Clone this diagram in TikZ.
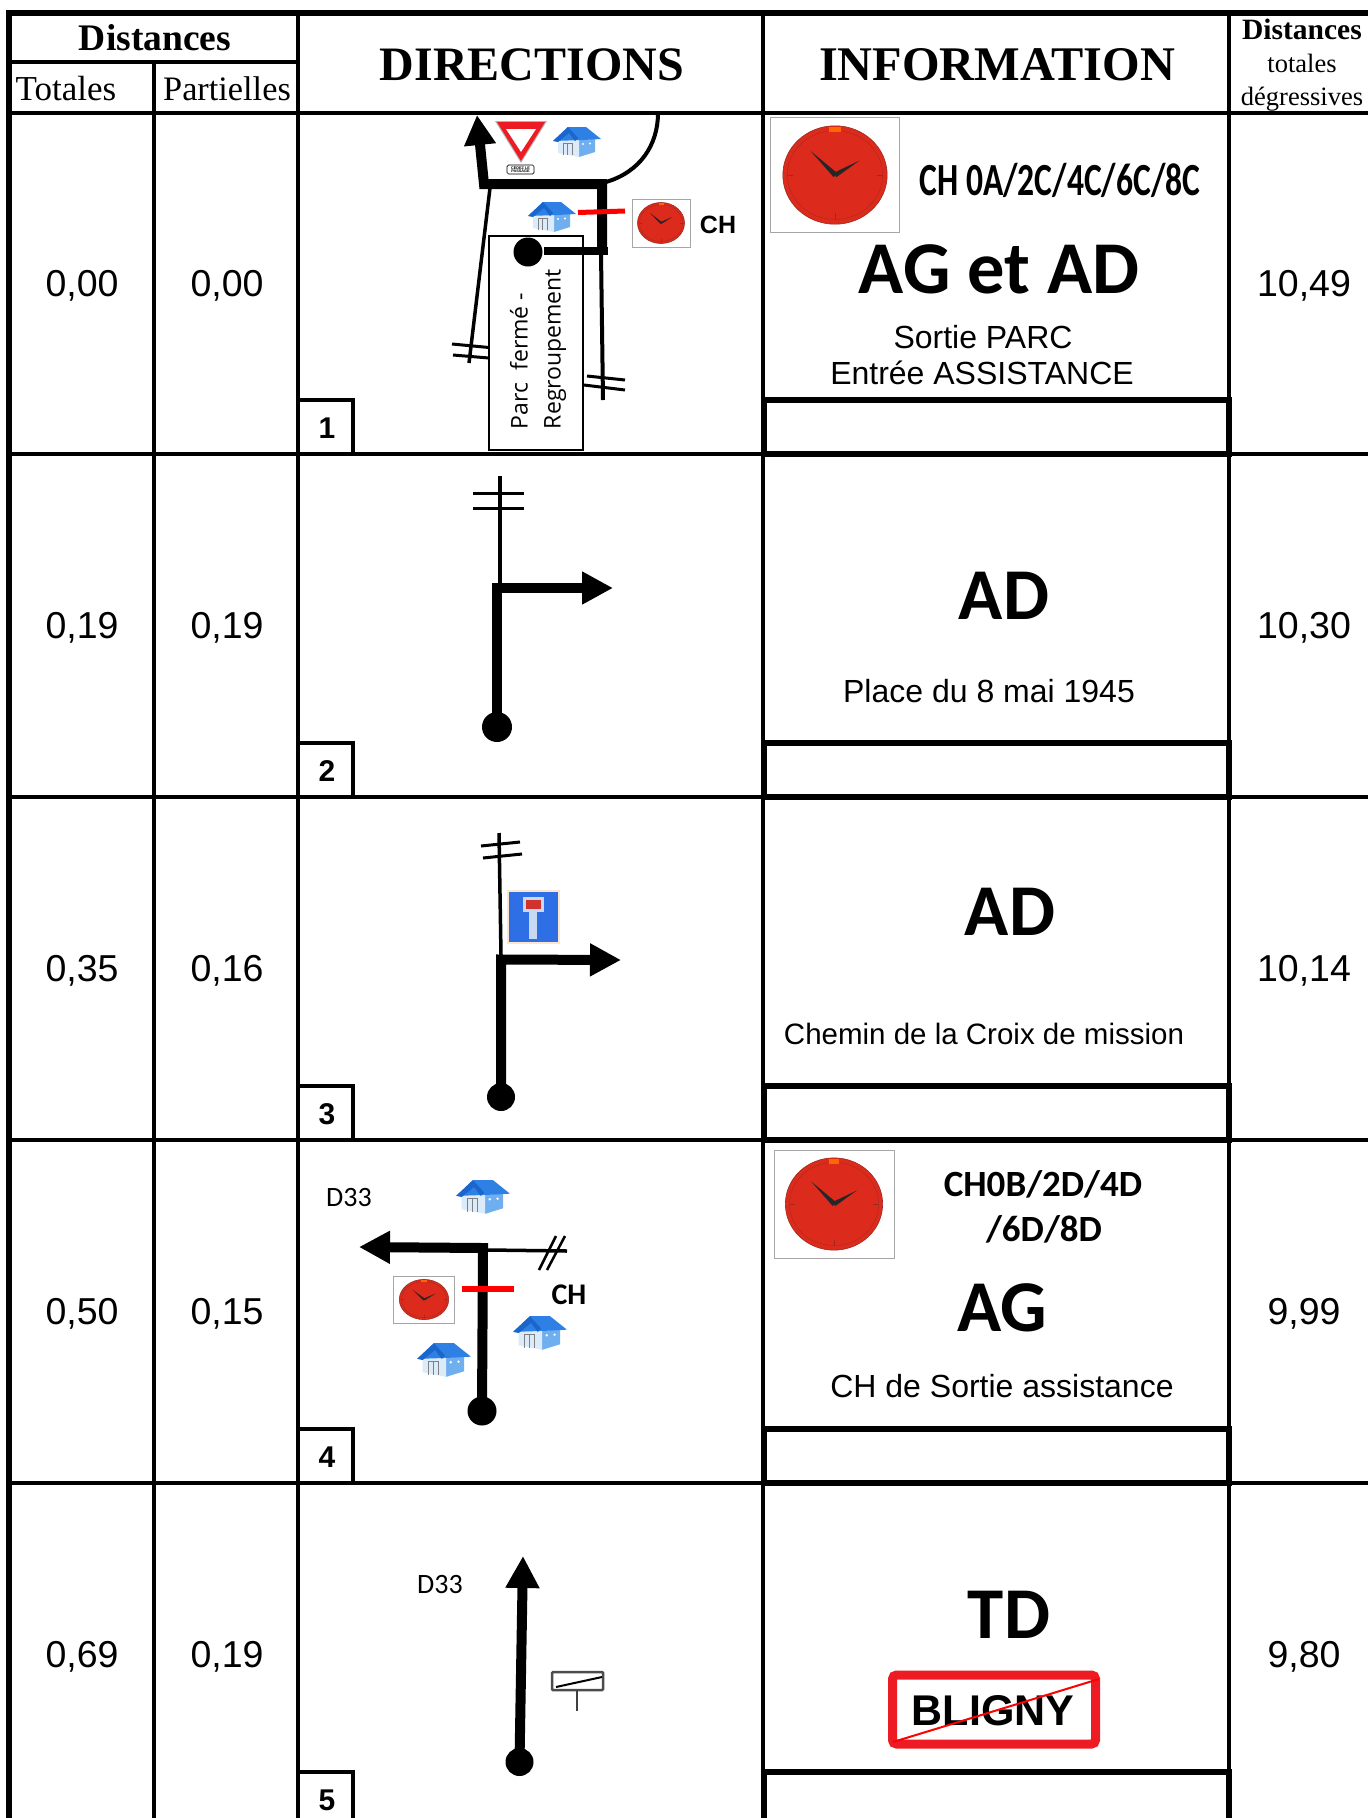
\documentclass[tikz,border=0pt]{standalone}
\usepackage{fontspec}
\usetikzlibrary{arrows.meta}
\setmainfont{Liberation Serif}
\newfontfamily\arialf{Liberation Sans}
\newfontfamily\calibf{Carlito}
\newfontfamily\opensf{Open Sans}
\newcommand{\fsz}[1]{\fontsize{#1}{#1}\selectfont}
\definecolor{signred}{HTML}{ED1C24}
\definecolor{clockred}{HTML}{DC2A1C}
\definecolor{clockrim}{HTML}{9E2A1E}
\definecolor{roofblue}{HTML}{2F80E4}
\definecolor{roofdark}{HTML}{1A66CC}
\definecolor{sideblue}{HTML}{6FAEEF}
\definecolor{frontpale}{HTML}{DCEBFA}
\definecolor{panelblue}{HTML}{2F6FE6}
\definecolor{panelpale}{HTML}{C9D8F2}
\definecolor{panelred}{HTML}{D2322C}
\tikzset{
  outer/.style={line width=6pt},
  grid/.style={line width=3.5pt},
  thickbox/.style={line width=5.5pt},
  numbox/.style={line width=3.5pt},
  road/.style={line width=10pt,line join=miter},
  roadarrow/.style={road,-{Triangle[length=31pt,width=31pt]}},
  street/.style={line width=3.5pt},
  hatch/.style={line width=3pt},
  dot/.style={circle,fill=black,inner sep=0pt,minimum size=#1},
  redbar/.style={line width=5pt,red},
  head/.style={inner sep=0pt,font=\bfseries\fsz{48}},
  dist/.style={inner sep=0pt,font=\arialf\fsz{37.5}},
  lab/.style={inner sep=0pt,font=\arialf\fsz{32}},
  big/.style={inner sep=0pt,font=\calibf\bfseries\fsz{73}},
  num/.style={inner sep=0pt,font=\arialf\bfseries\fsz{30}},
  houseicon/.pic={
    \fill[sideblue] (1,-2) -- (18,-3) -- (18,10) -- (2,15) -- cycle;
    \fill[frontpale] (-19,-2) -- (-8,-12) -- (2,-2) -- (2,15) -- (-19,11) -- cycle;
    \fill[roofblue] (-24,-1) -- (-9,-15) -- (9,-15) -- (24,-3) -- (6,-2) -- cycle;
    \fill[roofdark] (-24,-1) -- (-9,-15) -- (1,-4) -- (-2,-1) -- (-8,-9) -- (-19,0) -- cycle;
    \draw[gray,line width=.5pt] (-14,13) -- (-14,1) -- (-5,1) -- (-5,13) (-10,1) -- (-10,13);
    \fill[white] (6,2) circle (1.2) (13,1.5) circle (1.2);
  },
  clockicon/.pic={
    \draw[gray!70,line width=.8pt,fill=white] (-29,-24) rectangle (29,24);
    \draw[clockrim,fill=clockred,line width=.6pt] (0,0) ellipse (23.5 and 20.5);
    \draw[clockrim,line width=.3pt] (0,0) ellipse (21.5 and 18.5);
    \fill[orange!80!red] (-2.5,-20) rectangle (2.5,-18);
    \fill[black!85] (-11,-10) -- (1,-.8) -- (-.6,.9) -- cycle;
    \fill[black!85] (11,-6) -- (.6,.9) -- (-.6,-.9) -- cycle;
    \draw[clockrim,line width=.3pt] (0,16)--(0,18.5) (19,0)--(21.5,0) (-19,0)--(-21.5,0);
  }
}
\begin{document}
\begin{tikzpicture}[x=1pt,y=-1pt]
\useasboundingbox (0,0) rectangle (1368,1818);
\fill[white] (0,0) rectangle (1368,1818);
% ---- table grid
\draw[outer] (1368,13) -- (9,13) -- (9,1818);
\draw[grid] (154,62) -- (154,1818) (298,13) -- (298,1818) (763,13) -- (763,1818) (1229,13) -- (1229,1818);
\draw[grid] (9,62) -- (298,62);
\foreach \yy in {113,454,797,1140,1483} \draw[grid] (9,\yy) -- (1368,\yy);
% ---- number and blank boxes
\foreach \yy/\lb/\nm in {454/1/a,797/2/b,1140/3/c,1483/4/d,1826/5/e}{
  \draw[numbox] (298,\yy-54) -- (353,\yy-54) -- (353,\yy);
  \node[num] (num\nm) at (327,\yy-26) {\lb};
  \draw[thickbox] (764,\yy-54) rectangle (1229,\yy);
}
% ---- headers
\node[inner sep=0pt,font=\bfseries\fsz{37.5}] (hdist) at (155,38) {Distances};
\node[inner sep=0pt,font=\fsz{35}] (htot) at (66,89) {Totales};
\node[inner sep=0pt,font=\fsz{34.3}] (hpart) at (227,89) {Partielles};
\node[head] (hdir) at (532,64.5) {DIRECTIONS};
\node[head,font=\bfseries\fsz{48.3}] (hinf) at (997,64.5) {INFORMATION};
\node[inner sep=0pt,font=\bfseries\fsz{29.5}] (hr1) at (1302,29) {Distances};
\node[inner sep=0pt,font=\fsz{26.5}] (hr2) at (1302,63.5) {totales};
\node[inner sep=0pt,font=\fsz{26.5}] (hr3) at (1302,99) {dégressives};
% ---- distances
\node[dist] (ta) at (82,286) {0,00};  \node[dist] (pa) at (227,286) {0,00};  \node[dist] (ra) at (1304,286) {10,49};
\node[dist] (tb) at (82,628) {0,19};  \node[dist] (pb) at (227,628) {0,19};  \node[dist] (rb) at (1304,628) {10,30};
\node[dist] (tc) at (82,971) {0,35};  \node[dist] (pc) at (227,971) {0,16};  \node[dist] (rc) at (1304,971) {10,14};
\node[dist] (td) at (82,1314) {0,50}; \node[dist] (pd) at (227,1314) {0,15}; \node[dist] (rd) at (1304,1314) {9,99};
\node[dist] (te) at (82,1657) {0,69}; \node[dist] (pe) at (227,1657) {0,19}; \node[dist] (re) at (1304,1657) {9,80};
% ---- row 1 directions
\coordinate (a1) at (490,188); \coordinate (a2) at (469,363);
\coordinate (a3) at (601,253); \coordinate (a4) at (603,400);
\draw[street] (a1) -- (a2);
\draw[street,line width=4pt] (a3) -- (a4);
\draw[hatch] (452,344) -- (489,347.5) (453,355) -- (489,358);
\draw[hatch] (587,376) -- (625,380) (584,385) -- (625,390);
\node[draw,line width=1.5pt,fill=white,minimum width=94pt,minimum height=214pt,inner sep=0pt] (parc) at (536,343) {};
\node[rotate=90,inner sep=0pt,align=left,anchor=center,font=\opensf\fsz{23}] (parct) at (538,349) {Parc\ \ fermé -\\[10pt]Regroupement};
\coordinate (a5) at (608,251); \coordinate (a6) at (602,251); \coordinate (a7) at (602,184);
\coordinate (a8) at (484,184); \coordinate (a9) at (477,115); \coordinate (a10) at (544,251);
\node[dot=29pt] (sa) at (528,252) {};
\draw[line width=8pt] (a10) -- (a5);
\draw[roadarrow,-{Triangle[length=30pt,width=30pt]}] (a6) -- (a7) -- (a8) -- (a9);
\draw[line width=4pt] (606,182) .. controls (640,172) and (658,145) .. (658,113);
\fill[gray!60] (495,121) -- (547,121) -- (521,163) -- cycle;
\fill[signred] (497,122) -- (545,122) -- (521,161) -- cycle;
\fill[white] (506,129) -- (536,129) -- (521,152) -- cycle;
\node[draw,rounded corners=1.5pt,line width=.7pt,inner sep=.3pt,minimum width=27pt,minimum height=9pt,align=center,font=\arialf\bfseries\fsz{3.8}] (cedez) at (520.5,169.5) {CEDEZ LE\\[-.5pt]PASSAGE};
\pic (ha1) at (577,142) {houseicon};
\pic (ha2) at (552,217) {houseicon};
\draw[redbar] (578,212.5) -- (625,211);
\pic (ca) at (661,223) {clockicon};
\node[inner sep=0pt,font=\arialf\bfseries\fsz{25}] (cha) at (718,224.5) {CH};
% ---- row 1 info
\pic[xscale=2.22,yscale=2.4] (cb) at (835,175) {clockicon};
\node[inner sep=0pt,font=\calibf\bfseries\fsz{46}] (cpa) at (1060,180) {\scalebox{.73}[1]{CH 0A/2C/4C/6C/8C}};
\node[big,font=\calibf\bfseries\fsz{74.5}] (agad) at (999,269) {AG et AD};
\node[lab] (sp) at (983,337) {Sortie PARC};
\node[lab] (ea) at (982,373) {Entrée ASSISTANCE};
% ---- row 2
\coordinate (b1) at (500,476); \coordinate (b2) at (500,588);
\coordinate (b3) at (497,727); \coordinate (b4) at (497,588); \coordinate (b5) at (613,588);
\draw[street] (b1) -- (b2);
\draw[hatch] (473,493) -- (524,493) (473,508) -- (524,508);
\draw[roadarrow] (b3) -- (b4) -- (b5);
\node[dot=30pt] (sb) at (b3) {};
\node[big] (adb) at (1004,596) {AD};
\node[lab] (pl) at (989,691) {Place du 8 mai 1945};
% ---- row 3
\coordinate (c1) at (499,833); \coordinate (c2) at (501,955);
\coordinate (c3) at (501,1097); \coordinate (c4) at (501,959.5); \coordinate (c5) at (621,960);
\draw[street] (c1) -- (c2);
\draw[hatch] (481,846) -- (520,842) (483,858) -- (522,854);
\fill[white!80!orange] (507,890) rectangle (560,944);
\fill[panelblue] (509,892) rectangle (558,942);
\fill[panelpale] (529,910) rectangle (537,939);
\fill[panelpale] (523,897) rectangle (544,912);
\fill[panelred] (526,900) rectangle (541,909);
\draw[roadarrow] (c3) -- (c4) -- (c5);
\node[dot=28pt] (sc) at (c3) {};
\node[big] (adc) at (1010,912) {AD};
\node[lab,font=\arialf\fsz{29.5}] (ch) at (984,1034) {Chemin de la Croix de mission};
% ---- row 4
\coordinate (d1) at (488,1250); \coordinate (d2) at (567,1251);
\coordinate (d3) at (482,1408); \coordinate (d4) at (483,1248); \coordinate (d5) at (359,1247);
\draw[street] (d1) -- (d2);
\draw[hatch,line width=2.5pt] (539,1270) -- (556,1236) (547,1270) -- (565,1236);
\draw[roadarrow,line width=10pt] (d3) -- (d4) -- (d5);
\node[dot=29pt] (sd) at (482,1411) {};
\draw[redbar,line width=5.5pt] (462,1289) -- (514,1289);
\pic[scale=1.12] (hd1) at (483,1197) {houseicon};
\pic[scale=1.12] (hd2) at (540,1333) {houseicon};
\pic[scale=1.12] (hd3) at (444,1360) {houseicon};
\pic[xscale=1.05,yscale=.98] (cd) at (424,1299.5) {clockicon};
\node[inner sep=0pt,font=\calibf\fsz{28}] (dd) at (349,1197) {D33};
\node[inner sep=0pt,font=\calibf\bfseries\fsz{30}] (chd) at (569,1295) {CH};
\pic[xscale=2.07,yscale=2.25] (ce) at (834,1204) {clockicon};
\node[inner sep=0pt,font=\calibf\bfseries\fsz{37}] (c1d) at (1043,1184) {CH0B/2D/4D};
\node[inner sep=0pt,font=\calibf\bfseries\fsz{37}] (c2d) at (1044,1229) {/6D/8D};
\node[big] (agd) at (1002,1308) {AG};
\node[lab] (cs) at (1002,1386) {CH de Sortie assistance};
% ---- row 5
\coordinate (e1) at (519.5,1762); \coordinate (e2) at (523,1556);
\draw[roadarrow,-{Triangle[length=32pt,width=32pt]}] (e1) -- (e2);
\node[dot=28pt] (se) at (e1) {};
\node[inner sep=0pt,font=\calibf\fsz{28}] (de) at (440,1584) {D33};
\draw[line width=2.5pt,black!70,rounded corners=1pt] (552,1672) rectangle (603,1690);
\draw[line width=2pt] (556,1687) -- (602,1677);
\draw[line width=2.5pt,black!75] (577,1690) -- (577,1711);
\node[big] (tde) at (1009,1615) {TD};
\draw[line width=9pt,signred,rounded corners=4pt] (892.5,1675) rectangle (1095.5,1744);
\node[inner sep=0pt,font=\arialf\bfseries\fsz{43}] (bl) at (993,1711) {BLIGNY};
\draw[line width=2pt,red] (893,1742) -- (1099,1679);
\end{tikzpicture}
\end{document}
